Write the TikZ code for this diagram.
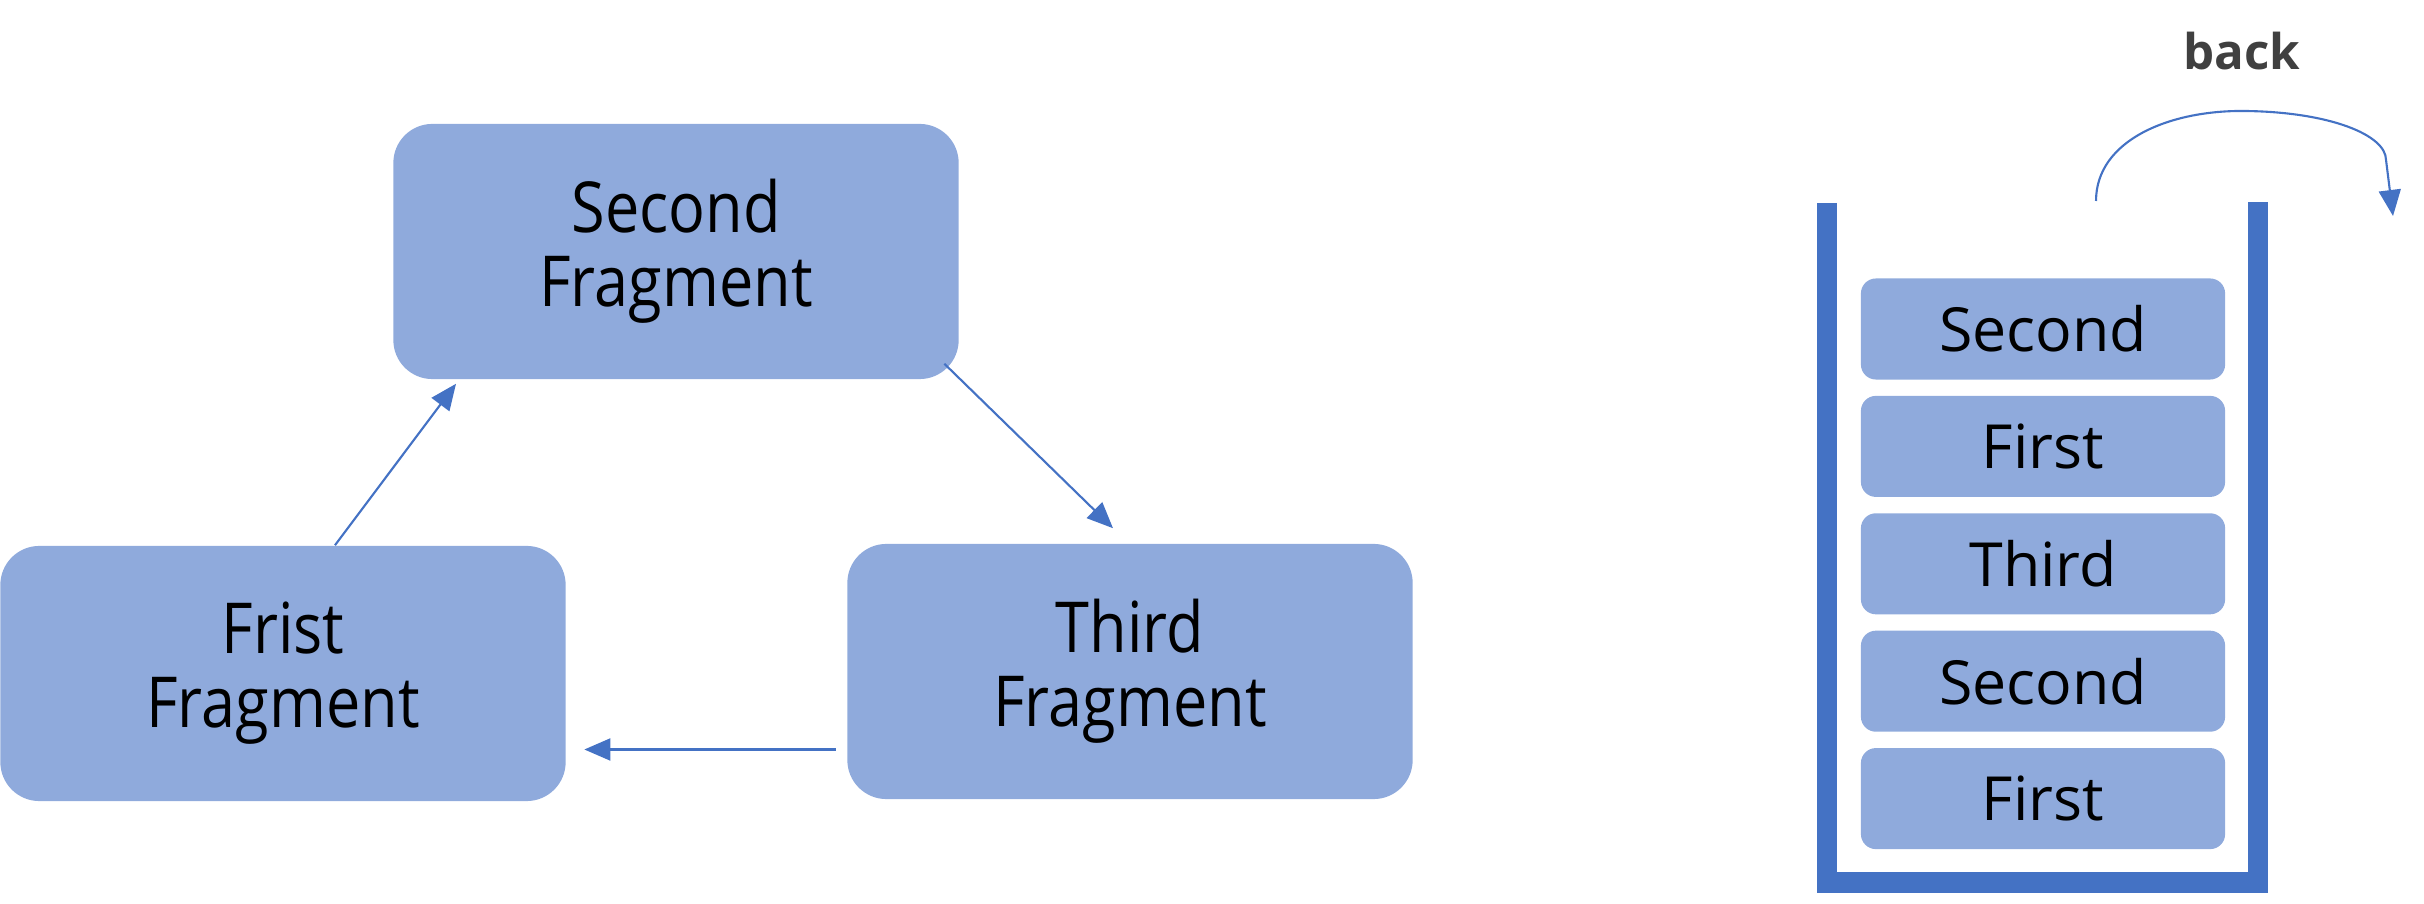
\documentclass[tikz,border=0pt]{standalone}
\usepackage{fontspec}
\setmainfont{Open Sans}
\newfontfamily\narrowfont[FakeStretch=0.87]{Open Sans}
\usetikzlibrary{arrows.meta,calc}
\definecolor{boxblue}{RGB}{143,170,220}
\definecolor{lineblue}{RGB}{68,114,196}
\definecolor{labelgray}{RGB}{64,64,64}

\begin{document}
\begin{tikzpicture}[x=0.01cm, y=0.01cm, >={Triangle[length=0.26cm,width=0.22cm]},
    frag/.style={fill=boxblue, rounded corners=0.39cm, minimum width=5.65cm, minimum height=2.55cm,
        align=center, font=\narrowfont\fontsize{20}{21}\selectfont},
    slot/.style={fill=boxblue, rounded corners=0.15cm, minimum width=3.64cm, minimum height=1.01cm,
        font=\fontsize{17.3}{20}\selectfont},
    link/.style={->, lineblue, line width=0.6pt}]
    \useasboundingbox (0,0) rectangle (2424,-904);

    % the three fragments
    \node[frag] (second) at (676,-251.5) {Second\\Fragment};
    \node[frag] (frist) at (283,-673.5) {Frist\\Fragment};
    \node[frag] (third) at (1130,-671.5) {Third\\Fragment};

    \draw[link] ($(frist.north)+(52,0)$) -- ($(second.south)+(-220,-4)$);
    \draw[link] ($(second.south east)+(-15,16)$) -- ($(third.north)+(-17,15)$);
    \draw[link] ($(third.west)+(-11,-78)$) -- ($(frist.east)+(18,-76)$);

    % back stack
    \draw[lineblue, line width=0.2cm] (1827,-203) -- (1827,-882.5) -- (2258,-882.5) -- (2258,-202);
    \foreach \name/\word [count=\i from 0] in {sa/Second, sb/First, sc/Third, sd/Second, se/First}
      \node[slot] (\name) at (2043, -329-117.4*\i) {\word};

    \node[font=\bfseries\fontsize{14}{16}\selectfont, text=labelgray] (back) at (2242,-51) {back};
    \coordinate (backstart) at (2096,-201);
    \coordinate (backtip) at (2393,-216);
    \draw[link] (backstart) .. controls (2096,-140) and (2170,-110) .. (2245,-111)
        .. controls (2330,-112) and (2386,-135) .. (2386,-160) -- (backtip);
\end{tikzpicture}
\end{document}
